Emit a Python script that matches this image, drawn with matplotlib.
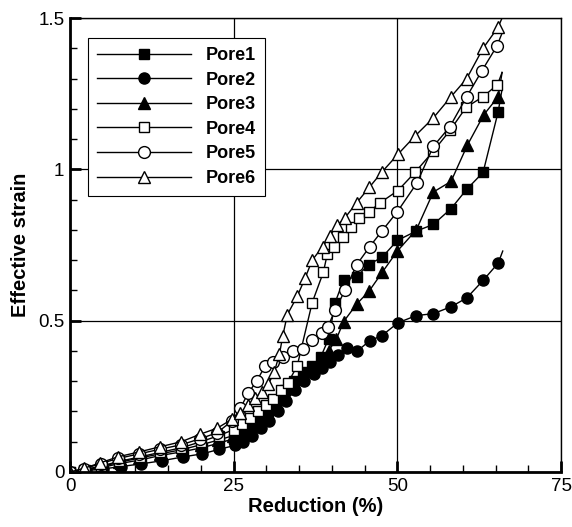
import numpy as np
import matplotlib
matplotlib.use("Agg")
import matplotlib.pyplot as plt
from matplotlib.ticker import MultipleLocator, FormatStrFormatter

plt.rcParams['font.family'] = ['Liberation Sans', 'DejaVu Sans']

# Pore1 (filled squares)
pore1_x = [0, 2.3, 4.9, 7.6, 10.8, 13.9, 17.2, 20.1, 22.7, 25.0, 26.3, 27.6, 28.9, 30.2, 31.5, 32.8,
           34.2, 35.6, 37.0, 38.3, 39.5, 40.5, 41.8, 43.8, 45.6, 47.7, 50.0, 52.8, 55.5, 58.2, 60.6, 63.1, 65.4]
pore1_y = [0, 0.005, 0.015, 0.028, 0.04, 0.055, 0.067, 0.08, 0.095, 0.11, 0.13, 0.15, 0.17, 0.2, 0.23, 0.27,
           0.30, 0.33, 0.35, 0.38, 0.44, 0.56, 0.635, 0.645, 0.685, 0.71, 0.765, 0.795, 0.818, 0.87, 0.934, 0.99, 1.19]
pore1_end = (66.0, 1.265)

# Pore2 (filled circles)
pore2_x = [0, 2.4, 5.0, 7.8, 10.9, 14.0, 17.3, 20.2, 22.8, 25.2, 26.5, 27.8, 29.1, 30.4, 31.7, 33.0,
           34.4, 35.8, 37.2, 38.5, 39.7, 41.0, 42.3, 43.9, 45.8, 47.6, 50.1, 52.9, 55.5, 58.2, 60.6, 63.1, 65.4]
pore2_y = [0, 0.004, 0.01, 0.018, 0.027, 0.037, 0.05, 0.06, 0.075, 0.088, 0.1, 0.12, 0.145, 0.17, 0.2, 0.235,
           0.27, 0.3, 0.325, 0.345, 0.365, 0.385, 0.41, 0.40, 0.434, 0.45, 0.493, 0.517, 0.523, 0.546, 0.575, 0.633, 0.69]
pore2_end = (66.1, 0.73)

# Pore3 (filled triangles)
pore3_x = [0, 2.2, 4.8, 7.5, 10.6, 13.8, 17.1, 20.0, 22.6, 24.9, 26.2, 27.5, 28.8, 30.1, 31.4, 32.7,
           34.0, 35.4, 36.8, 38.2, 39.5, 40.7, 41.8, 43.8, 45.7, 47.7, 50.0, 52.9, 55.5, 58.2, 60.7, 63.2, 65.4]
pore3_y = [0, 0.006, 0.018, 0.032, 0.046, 0.06, 0.074, 0.09, 0.105, 0.12, 0.14, 0.16, 0.18, 0.205, 0.23, 0.26,
           0.29, 0.315, 0.34, 0.37, 0.40, 0.44, 0.497, 0.555, 0.598, 0.66, 0.73, 0.80, 0.925, 0.96, 1.08, 1.18, 1.24]
pore3_end = (66.0, 1.32)

# Pore4 (open squares)
pore4_x = [0, 2.2, 4.8, 7.5, 10.7, 13.8, 17.0, 20.0, 22.7, 25.0, 26.3, 27.5, 28.7, 29.9, 31.0, 32.2, 33.3,
           34.7, 37.0, 38.7, 39.3, 40.3, 41.7, 42.9, 44.1, 45.7, 47.4, 50.1, 52.7, 55.5, 58.1, 60.5, 63.1, 65.3]
pore4_y = [0, 0.008, 0.02, 0.035, 0.05, 0.065, 0.08, 0.1, 0.12, 0.14, 0.16, 0.18, 0.2, 0.22, 0.24, 0.27, 0.295,
           0.35, 0.56, 0.66, 0.72, 0.745, 0.775, 0.81, 0.84, 0.86, 0.89, 0.93, 0.99, 1.06, 1.13, 1.205, 1.24, 1.28]
pore4_end = (66.0, 1.32)

# Pore5 (open circles)
pore5_x = [0, 2.1, 4.7, 7.4, 10.6, 13.7, 17.0, 19.9, 22.5, 24.8, 26.0, 27.2, 28.5, 29.8, 31.0, 32.5,
           34.0, 35.6, 37.0, 38.5, 39.4, 40.5, 42.0, 43.8, 45.8, 47.6, 50.0, 53.0, 55.5, 58.0, 60.6, 62.9, 65.2]
pore5_y = [0, 0.01, 0.028, 0.045, 0.06, 0.075, 0.09, 0.11, 0.13, 0.17, 0.21, 0.26, 0.30, 0.35, 0.365, 0.38,
           0.40, 0.405, 0.435, 0.46, 0.48, 0.536, 0.60, 0.685, 0.745, 0.795, 0.86, 0.955, 1.076, 1.14, 1.24, 1.325, 1.407]
pore5_end = (66.0, 1.45)

# Pore6 (open triangles)
pore6_x = [0, 2.1, 4.6, 7.3, 10.5, 13.7, 17.0, 19.9, 22.5, 24.8, 26.0, 27.2, 28.3, 29.3, 30.3, 31.2, 32.0, 32.5,
           33.2, 34.7, 35.9, 37.0, 38.6, 39.7, 40.8, 42.0, 43.8, 45.7, 47.6, 50.1, 52.7, 55.5, 58.2, 60.6, 63.1, 65.4]
pore6_y = [0, 0.012, 0.03, 0.05, 0.066, 0.083, 0.10, 0.125, 0.145, 0.175, 0.195, 0.22, 0.245, 0.265, 0.29, 0.33, 0.39, 0.45,
           0.52, 0.58, 0.64, 0.70, 0.745, 0.78, 0.815, 0.84, 0.89, 0.94, 0.99, 1.05, 1.11, 1.17, 1.24, 1.30, 1.40, 1.47]
pore6_end = (66.0, 1.50)

series = [
    ("Pore1", pore1_x, pore1_y, pore1_end, "s", "black", 7),
    ("Pore2", pore2_x, pore2_y, pore2_end, "o", "black", 8),
    ("Pore3", pore3_x, pore3_y, pore3_end, "^", "black", 8),
    ("Pore4", pore4_x, pore4_y, pore4_end, "s", "white", 7.5),
    ("Pore5", pore5_x, pore5_y, pore5_end, "o", "white", 8.5),
    ("Pore6", pore6_x, pore6_y, pore6_end, "^", "white", 9),
]

fig = plt.figure(figsize=(5.72, 5.27), dpi=100)
ax = fig.add_axes([70/572, 1-472/527, (561-70)/572, (472-18)/527])

for name, xs, ys, end, mk, fc, ms in series:
    # short line tail after the last marker
    ax.plot([xs[-1], end[0]], [ys[-1], end[1]], color="black", lw=1)
    ax.plot(xs, ys, marker=mk, markersize=ms, markerfacecolor=fc, markeredgecolor="black",
            markeredgewidth=1, color="black", lw=1, label=name)

ax.set_xlim(0, 75)
ax.set_ylim(0, 1.5)
ax.xaxis.set_major_locator(MultipleLocator(25))
ax.xaxis.set_minor_locator(MultipleLocator(5))
ax.yaxis.set_major_locator(MultipleLocator(0.5))
ax.yaxis.set_minor_locator(MultipleLocator(0.1))
ax.yaxis.set_major_formatter(FormatStrFormatter('%g'))
ax.grid(True, which="major", color="black", lw=0.9)
ax.set_axisbelow(True)

ax.tick_params(which="major", direction="in", length=8, width=2, labelsize=13.5, pad=4)
ax.tick_params(which="minor", direction="in", length=5, width=1)
ax.spines['left'].set_linewidth(2)
ax.spines['bottom'].set_linewidth(2)
ax.spines['top'].set_linewidth(1)
ax.spines['right'].set_linewidth(1)

ax.set_xlabel("Reduction (%)", fontsize=14.5, fontweight="bold", labelpad=2)
ax.set_ylabel("Effective strain", fontsize=14.5, fontweight="bold", labelpad=6)

leg = ax.legend(loc="upper left", bbox_to_anchor=(18/491, 1-20/454), borderaxespad=0,
                handlelength=5.2, labelspacing=0.42, fancybox=False, framealpha=1,
                edgecolor="black", borderpad=0.5, handletextpad=0.8,
                prop={'weight': 'bold', 'size': 13})
leg.get_frame().set_linewidth(0.8)

fig.savefig("out.png", dpi=100)
